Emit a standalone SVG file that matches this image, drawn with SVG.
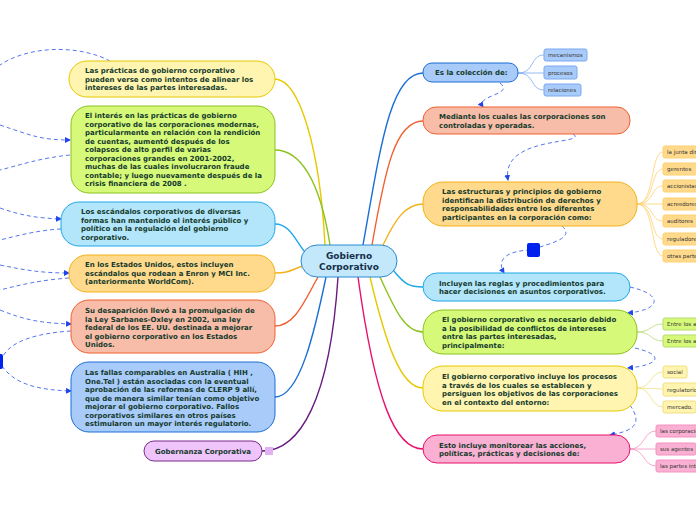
<svg xmlns="http://www.w3.org/2000/svg" width="696" height="520" viewBox="0 0 696 520">
<defs>
<style>
text{font-family:"DejaVu Sans",Verdana,sans-serif;font-weight:bold;font-size:7px;fill:#143a2c}
.s{font-weight:normal;font-size:5.5px;fill:#333}
.c{fill:none;stroke-width:1.4}
.d{fill:none;stroke:#5577ee;stroke-width:1;stroke-dasharray:4 3}
.l{fill:none;stroke-width:0.8}
</style>
<marker id="a" markerWidth="6" markerHeight="6" refX="5" refY="3" orient="auto"><path d="M0,0L6,3L0,6z" fill="#2244ee"/></marker>
</defs>
<rect width="696" height="520" fill="#fff"/>
<g id="connectors">
<path class="c" stroke="#e8c800" d="M325,245C320,150 300,80 275,79"/>
<path class="c" stroke="#8cc21e" d="M330,245C320,180 300,150 275,150"/>
<path class="c" stroke="#1fa7e8" d="M305,252C295,240 290,224 275,224"/>
<path class="c" stroke="#f2b21b" d="M303,266C290,270 290,273 275,273"/>
<path class="c" stroke="#f06030" d="M318,277C305,300 295,326 275,326"/>
<path class="c" stroke="#1a6fd6" d="M326,277C315,330 300,397 275,397"/>
<path class="c" stroke="#6a1a80" d="M338,277C330,400 300,451 262,451"/>
<path class="c" stroke="#1a6fd6" d="M363,245C380,150 390,73 423,73"/>
<path class="c" stroke="#f06030" d="M372,245C385,170 395,121 423,121"/>
<path class="c" stroke="#f2b21b" d="M383,245C395,220 405,204 423,204"/>
<path class="c" stroke="#1fa7e8" d="M393,270C405,285 410,287 423,287"/>
<path class="c" stroke="#8cc21e" d="M380,277C395,310 405,332 423,332"/>
<path class="c" stroke="#e8c800" d="M370,277C385,340 400,388 423,388"/>
<path class="c" stroke="#e8106a" d="M358,277C375,400 395,449 423,449"/>
<g class="l" stroke="#7aa8f0"><path d="M518,73C535,73 530,55 544,55"/><path d="M518,73L544,73"/><path d="M518,73C535,73 530,90 544,90"/></g>
<g class="l" stroke="#ffd070"><path d="M637,204C655,204 650,152 663,152"/><path d="M637,204C655,204 650,169 663,169"/><path d="M637,204C655,204 650,186 663,186"/><path d="M637,204L663,204"/><path d="M637,204C655,204 650,221 663,221"/><path d="M637,204C655,204 650,239 663,239"/><path d="M637,204C655,204 650,256 663,256"/></g>
<g class="l" stroke="#b5dc70"><path d="M637,332C652,332 650,324 663,324"/><path d="M637,332C652,332 650,341 663,341"/></g>
<g class="l" stroke="#f0e080"><path d="M637,388C652,388 650,372 663,372"/><path d="M637,388L663,389"/><path d="M637,388C652,388 650,407 663,407"/></g>
<g class="l" stroke="#f590c0"><path d="M630,449C645,449 643,431 656,431"/><path d="M630,449L656,449"/><path d="M630,449C645,449 643,466 656,466"/></g>
<path class="d" d="M500,83C515,95 475,95 483,107" marker-end="url(#a)"/>
<path class="d" d="M573,134C590,145 500,135 508,180" marker-end="url(#a)"/>
<path class="d" d="M562,226C578,240 540,245 533,250C510,250 495,258 504,273" marker-end="url(#a)"/>
<path class="d" d="M630,287C665,295 660,310 628,313" marker-end="url(#a)"/>
<path class="d" d="M635,348C665,355 660,365 628,368" marker-end="url(#a)"/>
<path class="d" d="M630,405C640,420 640,430 610,435" marker-end="url(#a)"/>
<path class="d" d="M110,61C80,45 30,45 0,65"/>
<path class="d" d="M0,125C30,135 40,140 70,140" marker-end="url(#a)"/>
<path class="d" d="M70,155C40,158 20,165 0,170"/>
<path class="d" d="M0,208C20,215 35,218 61,219" marker-end="url(#a)"/>
<path class="d" d="M61,229C40,230 20,235 0,240"/>
<path class="d" d="M0,265C25,270 40,273 69,273" marker-end="url(#a)"/>
<path class="d" d="M69,278C40,280 20,285 0,290"/>
<path class="d" d="M0,310C25,320 40,323 71,324" marker-end="url(#a)"/>
<path class="d" d="M71,331C40,333 10,340 2,358"/>
<path class="d" d="M2,366C15,385 40,390 71,391" marker-end="url(#a)"/>
<rect x="527" y="243" width="13" height="14" rx="2" fill="#0022ee"/>
<rect x="-4" y="354" width="7" height="15" rx="2" fill="#0022ee"/>
</g>
<g id="center"><rect x="301" y="245" width="96" height="32" rx="16" fill="#c4e8fb" stroke="#2a8ad0"/><text x="349" y="259" text-anchor="middle" style="font-size:9px;fill:#15304a">Gobierno</text><text x="349" y="270" text-anchor="middle" style="font-size:9px;fill:#15304a">Corporativo</text></g>
<g id="l1"><rect x="69" y="61" width="206" height="36" rx="18" fill="#fff5b0" stroke="#e8c800"/><text x="85" y="73">Las prácticas de gobierno corporativo</text><text x="85" y="81.5">pueden verse como intentos de alinear los</text><text x="85" y="90">intereses de las partes interesadas.</text></g>
<g id="l2"><rect x="71" y="106" width="204" height="87" rx="18" fill="#d6f97a" stroke="#8cc21e"/><text x="85" y="118">El interés en las prácticas de gobierno</text><text x="85" y="126.5">corporativo de las corporaciones modernas,</text><text x="85" y="135">particularmente en relación con la rendición</text><text x="85" y="143.5">de cuentas, aumentó después de los</text><text x="85" y="152">colapsos de alto perfil de varias</text><text x="85" y="160.5">corporaciones grandes en 2001-2002,</text><text x="85" y="169">muchas de las cuales involucraron fraude</text><text x="85" y="177.5">contable; y luego nuevamente después de la</text><text x="85" y="186">crisis financiera de 2008 .</text></g>
<g id="l3"><rect x="61" y="202" width="214" height="44" rx="18" fill="#b3e5fb" stroke="#1fa7e8"/><text x="81" y="214">Los escándalos corporativos de diversas</text><text x="81" y="222.5">formas han mantenido el interés público y</text><text x="81" y="231">político en la regulación del gobierno</text><text x="81" y="239.5">corporativo.</text></g>
<g id="l4"><rect x="69" y="255" width="206" height="37" rx="18" fill="#ffd98c" stroke="#f2b21b"/><text x="85" y="267">En los Estados Unidos, estos incluyen</text><text x="85" y="275.5">escándalos que rodean a Enron y MCI Inc.</text><text x="85" y="284">(anteriormente WorldCom).</text></g>
<g id="l5"><rect x="71" y="300" width="204" height="53" rx="18" fill="#f8bda8" stroke="#f06030"/><text x="85" y="313">Su desaparición llevó a la promulgación de</text><text x="85" y="321.5">la Ley Sarbanes-Oxley en 2002, una ley</text><text x="85" y="330">federal de los EE. UU. destinada a mejorar</text><text x="85" y="338.5">el gobierno corporativo en los Estados</text><text x="85" y="347">Unidos.</text></g>
<g id="l6"><rect x="71" y="362" width="204" height="70" rx="18" fill="#a9cbfa" stroke="#1a6fd6"/><text x="85" y="375">Las fallas comparables en Australia ( HIH ,</text><text x="85" y="383.5">One.Tel ) están asociadas con la eventual</text><text x="85" y="392">aprobación de las reformas de CLERP 9 allí,</text><text x="85" y="400.5">que de manera similar tenían como objetivo</text><text x="85" y="409">mejorar el gobierno corporativo. Fallos</text><text x="85" y="417.5">corporativos similares en otros países</text><text x="85" y="426">estimularon un mayor interés regulatorio.</text></g>
<g id="l7"><rect x="144" y="441" width="118" height="20" rx="10" fill="#efc4fb" stroke="#7b2a8a"/><text x="203" y="454" text-anchor="middle">Gobernanza Corporativa</text><rect x="265" y="447" width="8" height="8" fill="#e0b0f0"/></g>
<g id="r1"><rect x="423" y="63" width="95" height="19" rx="9" fill="#a9cbfa" stroke="#1a6fd6"/><text x="435" y="75">Es la colección de:</text>
<rect x="544" y="49" width="43" height="12" rx="2" fill="#a9cbfa" stroke="#7aa8f0"/><text class="s" x="548" y="57">mecanismos</text>
<rect x="544" y="66" width="33" height="13" rx="2" fill="#a9cbfa" stroke="#7aa8f0"/><text class="s" x="548" y="74.5">procesos</text>
<rect x="544" y="84" width="37" height="12" rx="2" fill="#a9cbfa" stroke="#7aa8f0"/><text class="s" x="548" y="92">relaciones</text></g>
<g id="r2"><rect x="423" y="107" width="207" height="27" rx="13" fill="#f8bda8" stroke="#f06030"/><text x="439" y="119">Mediante los cuales las corporaciones son</text><text x="439" y="128">controladas y operadas.</text></g>
<g id="r3"><rect x="423" y="182" width="214" height="44" rx="20" fill="#ffd98c" stroke="#f2b21b"/><text x="442" y="194">Las estructuras y principios de gobierno</text><text x="442" y="202.5">identifican la distribución de derechos y</text><text x="442" y="211">responsabilidades entre los diferentes</text><text x="442" y="219.5">participantes en la corporación como:</text>
<g fill="#ffd98c" stroke="#ffd070"><rect x="663" y="146" width="40" height="12" rx="2"/><rect x="663" y="163" width="34" height="12" rx="2"/><rect x="663" y="180" width="40" height="12" rx="2"/><rect x="663" y="198" width="40" height="12" rx="2"/><rect x="663" y="215" width="34" height="12" rx="2"/><rect x="663" y="233" width="40" height="12" rx="2"/><rect x="663" y="250" width="40" height="12" rx="2"/></g>
<text class="s" x="667" y="154">la junta directiva</text><text class="s" x="667" y="171">gerentes</text><text class="s" x="667" y="188">accionistas</text><text class="s" x="667" y="206">acreedores</text><text class="s" x="667" y="223">auditores</text><text class="s" x="667" y="241">reguladores</text><text class="s" x="667" y="258">otras partes</text></g>
<g id="r4"><rect x="423" y="273" width="207" height="28" rx="14" fill="#b3e5fb" stroke="#1fa7e8"/><text x="439" y="285.5">Incluyen las reglas y procedimientos para</text><text x="439" y="294">hacer decisiones en asuntos corporativos.</text></g>
<g id="r5"><rect x="423" y="310" width="214" height="44" rx="20" fill="#d6f97a" stroke="#8cc21e"/><text x="442" y="322">El gobierno corporativo es necesario debido</text><text x="442" y="330.5">a la posibilidad de conflictos de intereses</text><text x="442" y="339">entre las partes interesadas,</text><text x="442" y="347.5">principalmente:</text>
<rect x="663" y="318" width="40" height="12" rx="2" fill="#d6f97a" stroke="#b5dc70"/><text class="s" x="667" y="326">Entre los accionistas</text>
<rect x="663" y="335" width="40" height="12" rx="2" fill="#d6f97a" stroke="#b5dc70"/><text class="s" x="667" y="343">Entre los accionistas</text></g>
<g id="r6"><rect x="423" y="366" width="214" height="45" rx="20" fill="#fff5b0" stroke="#e8c800"/><text x="442" y="379">El gobierno corporativo incluye los procesos</text><text x="442" y="387.5">a través de los cuales se establecen y</text><text x="442" y="396">persiguen los objetivos de las corporaciones</text><text x="442" y="404.5">en el contexto del entorno:</text>
<rect x="663" y="366" width="24" height="12" rx="2" fill="#fff5b0" stroke="#f0e080"/><text class="s" x="667" y="374">social</text>
<rect x="663" y="383" width="40" height="13" rx="2" fill="#fff5b0" stroke="#f0e080"/><text class="s" x="667" y="391.5">regulatorio</text>
<rect x="663" y="401" width="33" height="12" rx="2" fill="#fff5b0" stroke="#f0e080"/><text class="s" x="667" y="409">mercado.</text></g>
<g id="r7"><rect x="423" y="435" width="207" height="28" rx="14" fill="#f9b0d2" stroke="#e8106a"/><text x="439" y="447.5">Esto incluye monitorear las acciones,</text><text x="439" y="456">políticas, prácticas y decisiones de:</text>
<g fill="#f9b0d2" stroke="#f590c0"><rect x="656" y="425" width="50" height="12" rx="2"/><rect x="656" y="443" width="40" height="12" rx="2"/><rect x="656" y="460" width="50" height="12" rx="2"/></g>
<text class="s" x="660" y="433">las corporaciones</text><text class="s" x="660" y="451">sus agentes</text><text class="s" x="660" y="468">las partes interesadas</text></g>
</svg>
